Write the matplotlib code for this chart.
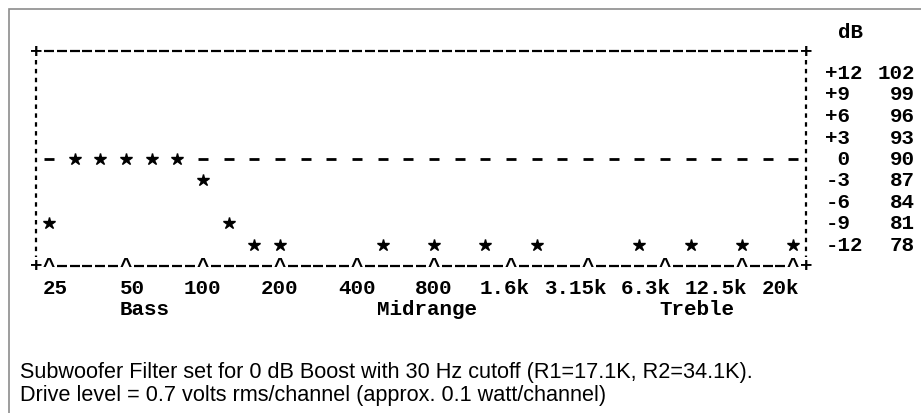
import numpy as np
import matplotlib
matplotlib.use("Agg")
import matplotlib.pyplot as plt
from matplotlib.patches import Rectangle

# ---------------- data ----------------
bands = ['25', '31.5', '40', '50', '63', '80', '100', '125', '160', '200',
         '250', '315', '400', '500', '630', '800', '1k', '1.25k', '1.6k', '2k',
         '2.5k', '3.15k', '4k', '5k', '6.3k', '8k', '10k', '12.5k', '16k', '20k']
nan = np.nan
response_db = [-9, 0, 0, 0, 0, 0, -3, -9, -12, -12,
               nan, nan, nan, -12, nan, -12, nan, -12, nan, -12,
               nan, nan, nan, -12, nan, -12, nan, -12, nan, -12]
reference_db = 0
db_ticks = [12, 9, 6, 3, 0, -3, -6, -9, -12]
db_tick_labels = ['+12', '+9', '+6', '+3', ' 0', '-3', '-6', '-9', '-12']
spl_labels = ['102', '99', '96', '93', '90', '87', '84', '81', '78']
freq_labels = ['25', '50', '100', '200', '400', '800', '1.6k', '3.15k', '6.3k', '12.5k', '20k']
region_labels = ['Bass', 'Midrange', 'Treble']
unit_label = 'dB'
notes = ['Subwoofer Filter set for 0 dB Boost with 30 Hz cutoff (R1=17.1K, R2=34.1K).',
         'Drive level = 0.7 volts rms/channel (approx. 0.1 watt/channel)']

# ---------------- layout (text-column grid) ----------------
W, H = 921, 414
left_px, right_px = 36, 806      # columns 0 and 60
top_px, bot_px = 52, 267         # rows +15 dB and -15 dB
freq_label_cols = [1.5, 7.5, 13, 19, 25, 31, 36.5, 42, 47.5, 53, 58]
region_cols = [8.5, 30.5, 51.5]

fig = plt.figure(figsize=(W / 100, H / 100), dpi=100)
fig.patch.set_facecolor('white')
ax = fig.add_axes([left_px / W, 1 - bot_px / H, (right_px - left_px) / W, (bot_px - top_px) / H])
ax.set_xlim(-0.5, 29.5)
ax.set_ylim(-15, 15)
ax.axis('off')


def cx(c):
    return (np.asarray(c, float) - 1) / 2.0


mono = dict(family=['Liberation Mono', 'DejaVu Sans Mono'], weight='bold', fontsize=15, color='black')
dash = dict(ls='none', marker='_', ms=6.8, mew=1.6, color='black', clip_on=False)

top, bottom = 15, -15
# top border
cols = np.arange(1, 60)
ax.plot(cx(cols), np.full(cols.shape, top), **dash)
# bottom border with octave carets
caret_cols = [c for c in range(1, 60) if (c - 1) % 6 == 0] + [59]
plain_cols = np.array([c for c in range(1, 60) if c not in caret_cols])
ax.plot(cx(plain_cols), np.full(plain_cols.shape, bottom), **dash)
for c in caret_cols:
    ax.text(cx(c), bottom, '^', ha='center', va='center', clip_on=False, **mono)
# corners
for c in (0, 60):
    for r in (top, bottom):
        ax.text(cx(c), r, '+', ha='center', va='center', clip_on=False, **mono)
# vertical borders
for c in (0, 60):
    ax.plot([cx(c), cx(c)], [top - 1.3, bottom + 1.3], color='black', lw=1.6,
            ls=(0, (2.0, 2.0)), clip_on=False)

# 0 dB reference line and response stars
x = np.arange(len(bands))
resp = np.array(response_db, float)
mask = ~(resp == reference_db)
ax.plot(x[mask], np.full(mask.sum(), reference_db), ls='none', marker='_', ms=6.5, mew=2.0,
        color='black', clip_on=False)
ax.plot(x, resp, ls='none', marker='*', ms=9, color='black', clip_on=False)

# right-hand scale
for d, lab, spl in zip(db_ticks, db_tick_labels, spl_labels):
    ax.text(cx(61.5), d, lab, ha='left', va='center', clip_on=False, **mono)
    ax.text(cx(68.5), d, spl, ha='right', va='center', clip_on=False, **mono)
ax.text(cx(63.5), 17.7, unit_label, ha='center', va='center', clip_on=False, **mono)

# frequency labels and regions
for lab, c in zip(freq_labels, freq_label_cols):
    ax.text(cx(c), -18, lab, ha='center', va='center', clip_on=False, **mono)
for lab, c in zip(region_labels, region_cols):
    ax.text(cx(c), -21, lab, ha='center', va='center', clip_on=False, **mono)

# notes
sans = ['Liberation Sans Narrow', 'Liberation Sans', 'DejaVu Sans']
t1 = fig.text(20 / W, 1 - 373 / H, notes[0], ha='left', va='center', family=sans, fontsize=12)
t2 = fig.text(20 / W, 1 - 396 / H, notes[1], ha='left', va='center', family=sans, fontsize=12)
fig.canvas.draw()
rend = fig.canvas.get_renderer()
w = t1.get_window_extent(rend).width
fs = 12 * 732.0 / w
t1.set_fontsize(fs)
t2.set_fontsize(fs)

# outer frame
fig.add_artist(Rectangle((9 / W, -0.05), 1.2, 1 - 9.5 / H + 0.05, transform=fig.transFigure,
                         fill=False, edgecolor='#8c8c8c', lw=1.2))

fig.savefig('out.png', dpi=100)
